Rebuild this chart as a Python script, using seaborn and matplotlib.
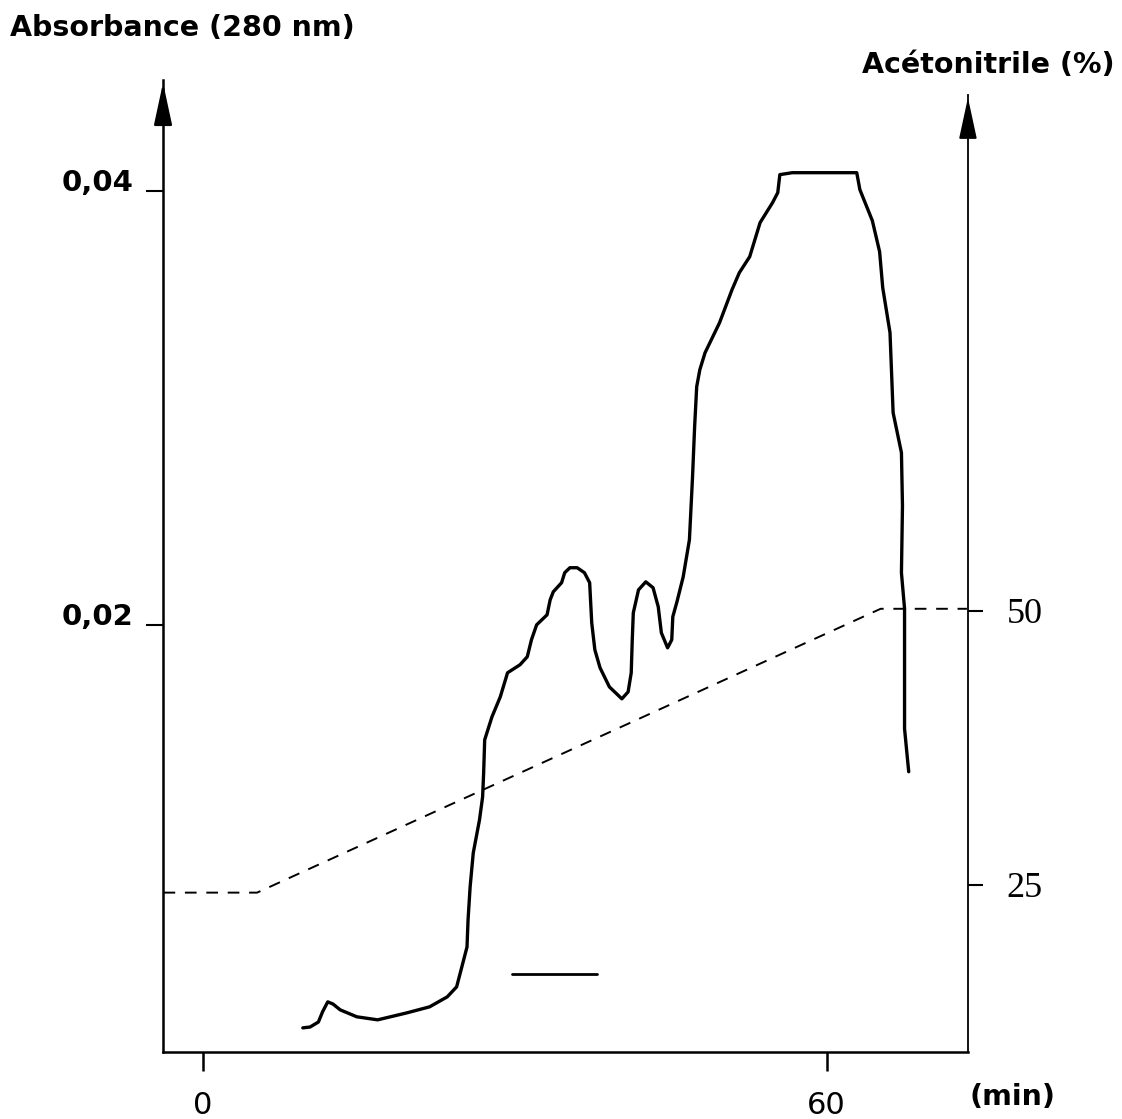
import numpy as np
import pandas as pd
import matplotlib
matplotlib.use("Agg")
import matplotlib.pyplot as plt
import seaborn as sns

# ---- data ----
# absorbance trace (time in min, absorbance in units of 0.001)
time_min = [9.6, 10.3, 11.1, 11.5, 12.0, 12.5, 13.2, 14.8, 16.8, 19.6, 21.8, 23.5,
            24.4, 25.0, 25.4, 25.5, 25.7, 26.0, 26.6, 26.9, 27.0, 27.1, 27.8, 28.6,
            29.3, 30.5, 31.2, 31.6, 32.1, 33.1, 33.4, 33.7, 34.5, 34.8, 35.3, 36.0,
            36.7, 37.2, 37.4, 37.7, 38.2, 39.1, 40.3, 40.9, 41.2, 41.3, 41.4, 41.9,
            42.6, 43.3, 43.8, 44.1, 44.7, 45.1, 45.2, 45.6, 46.2, 46.8, 47.1, 47.3,
            47.5, 47.8, 48.3, 49.7, 50.9, 51.6, 52.6, 53.6, 54.8, 55.3, 55.5, 56.7,
            62.9, 63.2, 64.4, 65.1, 65.4, 66.1, 66.4, 67.2, 67.3, 67.2, 67.5, 67.5, 67.9]
absorb_milli = [1.43, 1.47, 1.70, 2.17, 2.63, 2.53, 2.26, 1.94, 1.80, 2.12, 2.40, 2.86,
                3.32, 4.42, 5.16, 6.41, 7.93, 9.49, 11.01, 12.07, 13.18, 14.70, 15.76, 16.68,
                17.79, 18.16, 18.53, 19.31, 20.00, 20.46, 21.15, 21.52, 21.94, 22.40, 22.63, 22.63,
                22.40, 21.94, 20.09, 18.85, 18.02, 17.14, 16.59, 16.91, 17.79, 19.31, 20.55, 21.61,
                21.98, 21.71, 20.83, 19.63, 18.94, 19.31, 20.37, 21.06, 22.21, 23.92, 26.82, 29.12,
                30.97, 31.75, 32.53, 33.92, 35.44, 36.22, 36.96, 38.53, 39.45, 39.91, 40.74, 40.83,
                40.83, 40.05, 38.62, 37.19, 35.53, 33.46, 29.77, 27.93, 25.48, 22.40, 20.74, 15.21, 13.23]

# acetonitrile gradient (time in min, %)
grad_time = [-3.8, 5.2, 65.2, 73.5]
grad_pct = [24.3, 24.3, 50.2, 50.2]

# short horizontal bar drawn under the trace
bar_time = [29.7, 37.9]
bar_absorb_milli = [3.9, 3.9]

x_ticks = [0, 60]
x_ticklabels = ["0", "60"]
y_ticks = [0.02, 0.04]
y_ticklabels = ["0,02", "0,04"]
y2_ticks = [25, 50]
y2_ticklabels = ["25", "50"]

# ---- styling ----
sns.set_style("ticks")
plt.rcParams["font.family"] = ["DejaVu Sans"]
plt.rcParams["text.color"] = "black"
plt.rcParams["axes.edgecolor"] = "black"
plt.rcParams["xtick.color"] = "black"
plt.rcParams["ytick.color"] = "black"

fig = plt.figure(figsize=(11.22, 11.19), dpi=100)
ax = fig.add_axes([0.1453, 0.0599, 0.7174, 0.8686])
ax2 = ax.twinx()

trace = pd.DataFrame({"t": time_min, "A": np.array(absorb_milli) / 1000.0})
bar = pd.DataFrame({"t": bar_time, "A": np.array(bar_absorb_milli) / 1000.0})
grad = pd.DataFrame({"t": grad_time, "p": grad_pct})

sns.lineplot(data=trace, x="t", y="A", ax=ax, color="black", linewidth=2.4,
             sort=False, estimator=None)
sns.lineplot(data=bar, x="t", y="A", ax=ax, color="black", linewidth=2.0,
             sort=False, estimator=None)
sns.lineplot(data=grad, x="t", y="p", ax=ax2, color="black", linewidth=1.4,
             sort=False, estimator=None, linestyle=(0, (6, 5)))

ax.set_xlim(-3.85, 73.6)
ax.set_ylim(0.00032, 0.0451)
ax2.set_ylim(9.76, 98.45)

for a in (ax, ax2):
    a.set_xlabel("")
    a.set_ylabel("")
    a.grid(False)
    a.spines["top"].set_visible(False)

ax.spines["right"].set_visible(False)
ax2.spines["left"].set_visible(False)
ax2.spines["bottom"].set_visible(False)
ax.spines["left"].set_linewidth(1.8)
ax.spines["bottom"].set_linewidth(1.8)
ax2.spines["right"].set_linewidth(1.3)
ax2.spines["right"].set_bounds(9.76, 97.1)

ax.set_xticks(x_ticks)
ax.set_xticklabels(x_ticklabels)
ax.set_yticks(y_ticks)
ax.set_yticklabels(y_ticklabels)
ax2.set_yticks(y2_ticks)
ax2.set_yticklabels(y2_ticklabels)

ax.tick_params(axis="x", direction="out", length=14, width=1.8, pad=14,
               labelsize=22, colors="black")
ax.tick_params(axis="y", direction="out", length=12, width=1.5, pad=9,
               labelsize=21, colors="black")
ax2.tick_params(axis="y", direction="out", length=11, width=1.5, pad=17,
                labelsize=26, colors="black")
for lab in ax.get_yticklabels():
    lab.set_va("baseline")
    lab.set_fontweight("bold")
for lab in ax2.get_yticklabels():
    lab.set_family("Liberation Serif")

# arrow heads on the vertical axes
ax.annotate("", xy=(0, 1.0), xytext=(0, 0.96), xycoords="axes fraction",
            arrowprops=dict(arrowstyle="-|>,head_length=1.3,head_width=0.28",
                            color="black", lw=1.8, mutation_scale=20),
            annotation_clip=False)
top2 = (97.1 - 9.76) / (98.45 - 9.76)
ax2.annotate("", xy=(1, top2), xytext=(1, top2 - 0.04), xycoords="axes fraction",
             arrowprops=dict(arrowstyle="-|>,head_length=1.3,head_width=0.28",
                             color="black", lw=1.3, mutation_scale=20),
             annotation_clip=False)

fig.text(0.009, 0.975, "Absorbance (280 nm)", ha="left", va="center",
         fontsize=20.5, fontweight="bold")
fig.text(0.9938, 0.942, "Acétonitrile (%)", ha="right", va="center",
         fontsize=20.5, fontweight="bold")
fig.text(0.8645, 0.0197, "(min)", ha="left", va="center",
         fontsize=20.5, fontweight="bold")

fig.savefig("out.png", dpi=100)
